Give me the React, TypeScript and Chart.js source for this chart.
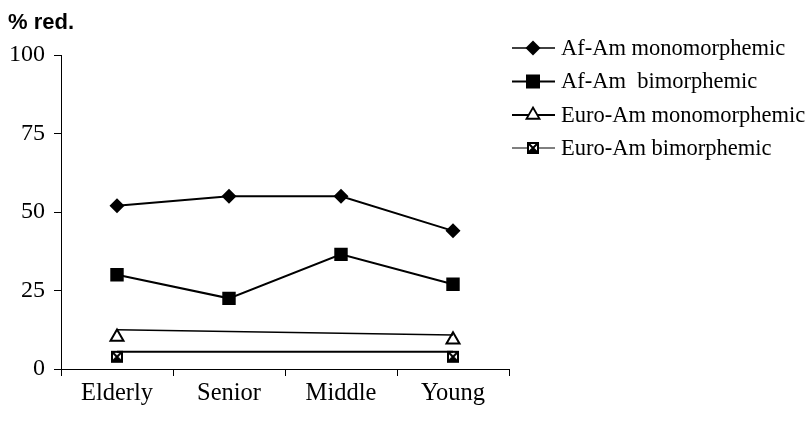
import React, { useEffect, useRef } from 'react';
import { Chart, registerables } from 'chart.js';

Chart.register(...registerables);

const categories = ['Elderly', 'Senior', 'Middle', 'Young'];
const afAmMono = [52, 55, 55, 44];
const afAmBi = [30, 22.5, 36.5, 27];
const euroAmMonoPoints = [10.2, null, null, 9.3];
const euroAmMonoLine = [12.5, null, null, 10.8];
const euroAmBiPoints = [3.9, null, null, 3.9];
const euroAmBiLine = [5.5, null, null, 5.5];
const yTicks = [0, 25, 50, 75, 100];
const yTitle = '% red.';
const legendLabels = ['Af-Am monomorphemic', 'Af-Am  bimorphemic', 'Euro-Am monomorphemic', 'Euro-Am bimorphemic'];

const SERIF = "'Liberation Serif', 'Times New Roman', serif";

function makeCrossBox(): HTMLCanvasElement {
  const c = document.createElement('canvas');
  c.width = 14;
  c.height = 14;
  const ctx = c.getContext('2d')!;
  ctx.fillStyle = '#fff';
  ctx.fillRect(1, 1, 12, 12);
  ctx.strokeStyle = '#000';
  ctx.lineWidth = 2;
  ctx.strokeRect(2, 2, 10, 10);
  ctx.beginPath();
  ctx.moveTo(2, 2);
  ctx.lineTo(12, 12);
  ctx.moveTo(12, 2);
  ctx.lineTo(2, 12);
  ctx.stroke();
  ctx.fillStyle = '#000';
  ctx.beginPath();
  ctx.moveTo(2, 12);
  ctx.lineTo(7, 7);
  ctx.lineTo(12, 12);
  ctx.closePath();
  ctx.fill();
  return c;
}

function drawMarker(ctx: CanvasRenderingContext2D, kind: number, x: number, y: number, img: HTMLCanvasElement) {
  ctx.save();
  ctx.fillStyle = '#000';
  ctx.strokeStyle = '#000';
  ctx.lineWidth = 1.8;
  if (kind === 0) {
    const r = 7.5;
    ctx.beginPath();
    ctx.moveTo(x, y - r);
    ctx.lineTo(x + r, y);
    ctx.lineTo(x, y + r);
    ctx.lineTo(x - r, y);
    ctx.closePath();
    ctx.fill();
  } else if (kind === 1) {
    const s = 7;
    ctx.fillRect(x - s, y - s, 2 * s, 2 * s);
  } else if (kind === 2) {
    const r = 7.5;
    ctx.fillStyle = '#fff';
    ctx.beginPath();
    ctx.moveTo(x, y - r);
    ctx.lineTo(x + r * 0.87, y + r * 0.5);
    ctx.lineTo(x - r * 0.87, y + r * 0.5);
    ctx.closePath();
    ctx.fill();
    ctx.stroke();
  } else {
    ctx.drawImage(img, Math.round(x - img.width / 2), Math.round(y - img.height / 2));
  }
  ctx.restore();
}

export default function App() {
  const ref = useRef<HTMLCanvasElement | null>(null);

  useEffect(() => {
    if (!ref.current) return;
    const crossBox = makeCrossBox();

    const overlay = {
      id: 'overlay',
      afterDraw(chart: any) {
        const ctx: CanvasRenderingContext2D = chart.ctx;
        ctx.save();
        ctx.fillStyle = '#000';
        ctx.font = "bold 22px 'Liberation Sans', Arial, sans-serif";
        ctx.textAlign = 'left';
        ctx.textBaseline = 'alphabetic';
        ctx.fillText(yTitle, 8, 29);

        const rows = [48, 81.5, 115, 148];
        const widths = [1.5, 2, 2, 1];
        ctx.font = `22.5px ${SERIF}`;
        ctx.textBaseline = 'middle';
        legendLabels.forEach((lab, i) => {
          const y = rows[i];
          ctx.strokeStyle = '#000';
          ctx.lineWidth = widths[i];
          ctx.beginPath();
          ctx.moveTo(512, y);
          ctx.lineTo(555, y);
          ctx.stroke();
          drawMarker(ctx, i, 533, y, crossBox);
          ctx.fillStyle = '#000';
          ctx.fillText(lab, 561, y + 1);
        });
        ctx.restore();
      },
    };

    const chart = new Chart(ref.current, {
      type: 'line',
      data: {
        labels: categories,
        datasets: [
          {
            label: legendLabels[0],
            data: afAmMono,
            borderColor: '#000',
            backgroundColor: '#000',
            borderWidth: 2,
            pointStyle: 'rectRot',
            pointRadius: 7.5,
            pointBorderWidth: 0,
          },
          {
            label: legendLabels[1],
            data: afAmBi,
            borderColor: '#000',
            backgroundColor: '#000',
            borderWidth: 2,
            pointStyle: 'rect',
            pointRadius: 9.5,
            pointBorderWidth: 0,
          },
          {
            label: 'euroMonoLine',
            data: euroAmMonoLine,
            borderColor: '#000',
            borderWidth: 1.5,
            pointRadius: 0,
            spanGaps: true,
          },
          {
            label: legendLabels[2],
            data: euroAmMonoPoints,
            borderColor: '#000',
            backgroundColor: '#fff',
            showLine: false,
            pointStyle: 'triangle',
            pointRadius: 7.5,
            pointBorderWidth: 2,
          },
          {
            label: 'euroBiLine',
            data: euroAmBiLine,
            borderColor: '#000',
            borderWidth: 2,
            pointRadius: 0,
            spanGaps: true,
          },
          {
            label: legendLabels[3],
            data: euroAmBiPoints,
            borderColor: '#000',
            showLine: false,
            pointStyle: crossBox as any,
          },
        ],
      },
      options: {
        responsive: false,
        animation: false,
        layout: { padding: { top: 55, right: 298, left: 0, bottom: 0 } },
        plugins: {
          legend: { display: false },
          tooltip: { enabled: false },
        },
        scales: {
          x: {
            offset: true,
            grid: {
              display: true,
              drawOnChartArea: false,
              drawTicks: true,
              tickLength: 7,
              color: '#000',
              offset: true,
            },
            border: { display: true, color: '#000', width: 1 },
            ticks: { color: '#000', font: { family: SERIF, size: 24.5 }, padding: 3 },
            afterFit: (s: any) => {
              s.height = 54;
            },
          },
          y: {
            min: 0,
            max: 100,
            afterBuildTicks: (s: any) => {
              s.ticks = yTicks.map((v) => ({ value: v }));
            },
            grid: {
              display: true,
              drawOnChartArea: false,
              drawTicks: true,
              tickLength: 7,
              color: '#000',
            },
            border: { display: true, color: '#000', width: 1 },
            ticks: { color: '#000', font: { family: SERIF, size: 24 }, padding: 9 },
            afterFit: (s: any) => {
              s.width = 61;
            },
          },
        },
      },
      plugins: [overlay],
    });
    return () => chart.destroy();
  }, []);

  return (
    <div style={{ position: 'fixed', left: 0, top: 0, width: 807, height: 423, background: '#fff' }}>
      <canvas ref={ref} width={807} height={423} />
    </div>
  );
}
